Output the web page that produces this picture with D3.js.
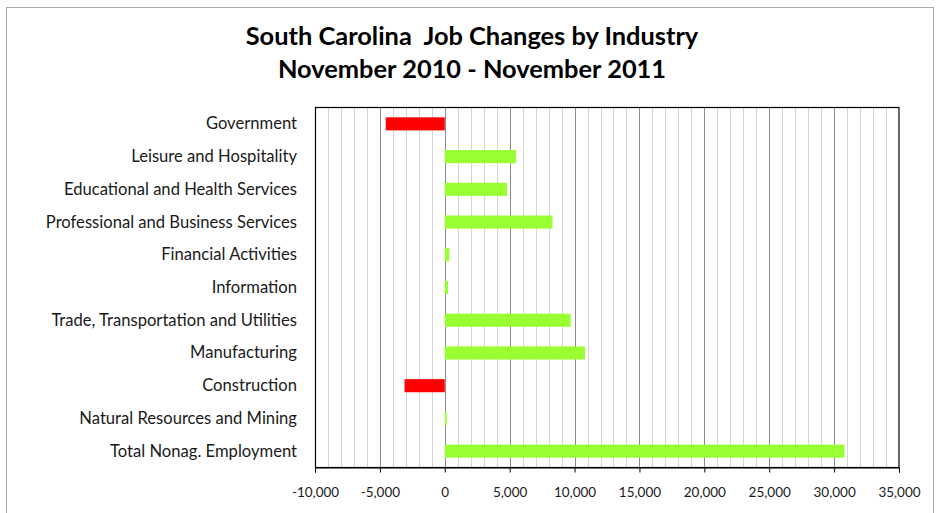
<!DOCTYPE html>
<html>
<head>
<meta charset="utf-8">
<script src="https://cdn.jsdelivr.net/npm/d3@7"></script>
<style>
  body { margin: 0; background: #fff; }
  .title_styling { font-family: Lato, "Open Sans", sans-serif; font-weight: bold; font-size: 25.4px; fill: #000; }
  .text_styling { font-family: Lato, "Open Sans", sans-serif; font-size: 16.6px; fill: #1a1a1a; }
  .tick_styling { font-family: Lato, "Open Sans", sans-serif; font-size: 13.5px; fill: #1a1a1a; }
</style>
</head>
<body>
<div id="viz"></div>
<script>
// industries, top to bottom
const industries = [
    "Government",
    "Leisure and Hospitality",
    "Educational and Health Services",
    "Professional and Business Services",
    "Financial Activities",
    "Information",
    "Trade, Transportation and Utilities",
    "Manufacturing",
    "Construction",
    "Natural Resources and Mining",
    "Total Nonag. Employment"
];
const jobChanges = [-4550, 5500, 4800, 8300, 350, 250, 9700, 10800, -3100, 150, 30800];
const tickValues = [-10000, -5000, 0, 5000, 10000, 15000, 20000, 25000, 30000, 35000];
const titleLines = ["South Carolina\u00a0 Job Changes by Industry", "November 2010 - November 2011"];

const width = 939;
const height = 513;
const marginLeft = 315;
const marginRight = 899;
const marginTop = 107.5;
const plotBottom = 467.5;

const svg = d3.select("#viz")
    .append("svg")
    .attr("width", width)
    .attr("height", height);

// outer chart border
svg.append("rect")
    .attr("x", 6.5)
    .attr("y", 7.5)
    .attr("width", 927)
    .attr("height", 520)
    .attr("fill", "none")
    .attr("stroke", "#aaaaaa")
    .attr("stroke-width", 1);

const x = d3.scaleLinear()
    .domain([-10000, 35000])
    .range([marginLeft, marginRight]);

const y = d3.scaleBand()
    .domain(industries)
    .range([marginTop, plotBottom])
    .paddingInner(0.6)
    .paddingOuter(0.3);

// gridlines, minor every 1,000 and major every 5,000
const minorTicks = d3.range(-9000, 35000, 1000).filter(d => d % 5000 !== 0);
svg.append("g")
    .selectAll("line")
    .data(minorTicks)
    .enter()
    .append("line")
        .attr("x1", d => Math.round(x(d)) + 0.5)
        .attr("x2", d => Math.round(x(d)) + 0.5)
        .attr("y1", marginTop)
        .attr("y2", plotBottom)
        .attr("stroke", "#d4d4d4");

svg.append("g")
    .selectAll("line")
    .data(tickValues.slice(1, -1))
    .enter()
    .append("line")
        .attr("x1", d => Math.round(x(d)) + 0.5)
        .attr("x2", d => Math.round(x(d)) + 0.5)
        .attr("y1", marginTop)
        .attr("y2", plotBottom)
        .attr("stroke", "#8c8c8c");

// bars
svg.append("g")
    .selectAll("rect")
    .data(industries)
    .enter()
    .append("rect")
        .attr("x", (d, i) => x(Math.min(0, jobChanges[i])))
        .attr("y", d => y(d))
        .attr("width", (d, i) => Math.abs(x(jobChanges[i]) - x(0)))
        .attr("height", y.bandwidth())
        .attr("fill", (d, i) => jobChanges[i] < 0 ? "#ff0000" : "#99ff33");

// plot frame
svg.append("rect")
    .attr("x", marginLeft + 0.5)
    .attr("y", marginTop)
    .attr("width", marginRight - marginLeft - 0.5)
    .attr("height", plotBottom - marginTop)
    .attr("fill", "none")
    .attr("stroke", "#000")
    .attr("stroke-width", 1.2);

// x axis, plain hyphen for negatives like the original
const fmt = d3.format(",");
const xAxis = svg.append("g")
    .attr("transform", "translate(0," + plotBottom + ")")
    .call(d3.axisBottom(x)
        .tickValues(tickValues)
        .tickSize(5)
        .tickPadding(15)
        .tickFormat(d => fmt(d).replace("\u2212", "-")));
xAxis.select(".domain").attr("stroke", "#000");
xAxis.selectAll(".tick line").attr("stroke", "#000");
xAxis.selectAll("text")
    .attr("class", "tick_styling")
    .attr("fill", null)
    .attr("font-family", null)
    .attr("font-size", null);

// category labels
svg.append("g")
    .selectAll("text")
    .data(industries)
    .enter()
    .append("text")
        .text(d => d)
        .attr("x", 297)
        .attr("y", d => y(d) + y.bandwidth() / 2 + 5.5)
        .attr("class", "text_styling")
        .attr("text-anchor", "end");

// title
svg.append("g")
    .selectAll("text")
    .data(titleLines)
    .enter()
    .append("text")
        .text(d => d)
        .attr("x", 472)
        .attr("y", (d, i) => 45 + i * 33)
        .attr("class", "title_styling")
        .attr("text-anchor", "middle");
</script>
</body>
</html>
